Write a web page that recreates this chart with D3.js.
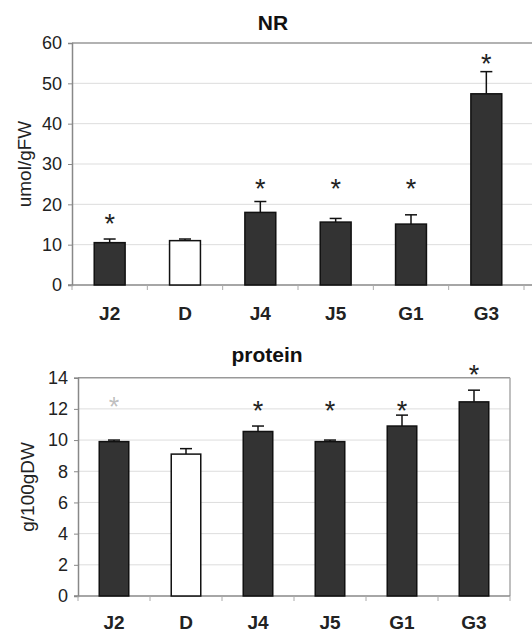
<!DOCTYPE html>
<html>
<head>
<meta charset="utf-8">
<script src="https://cdn.jsdelivr.net/npm/d3@7"></script>
<style>
  body { margin: 0; background: #fff; }
  svg { font-family: "Liberation Sans", Arial, sans-serif; }
</style>
</head>
<body>
<svg id="chart" width="532" height="633"></svg>
<script>
var categories = ['J2', 'D', 'J4', 'J5', 'G1', 'G3'];
var controlCat = 'D';

var nrValues = [10.5, 11.0, 18.0, 15.6, 15.1, 47.4];
var nrErrors = [0.9, 0.4, 2.7, 0.9, 2.3, 5.5];
var nrStars = [16.0, null, 24.8, 24.8, 24.8, 55.8];
var nrTicks = [0, 10, 20, 30, 40, 50, 60];

var proteinValues = [9.9, 9.1, 10.55, 9.9, 10.9, 12.45];
var proteinErrors = [0.1, 0.35, 0.35, 0.1, 0.7, 0.75];
var proteinStars = [12.4, null, 12.1, 12.1, 12.1, 14.4];
var proteinTicks = [0, 2, 4, 6, 8, 10, 12, 14];

var svg = d3.select('#chart');

function drawPanel(opt) {
    var g = svg.append('g');
    var gridEnd = opt.frameRight ? opt.right : 540;

    var x = d3.scaleBand()
        .domain(categories)
        .range([opt.left, opt.right])
        .paddingInner(0.59)
        .paddingOuter(0.295);

    var y = d3.scaleLinear()
        .domain([0, d3.max(opt.ticks)])
        .range([opt.bottom, opt.top]);

    // grid
    g.selectAll('.grid')
        .data(opt.ticks.filter(d => d > 0))
        .enter().append('line')
        .attr('x1', opt.left).attr('x2', gridEnd)
        .attr('y1', d => y(d)).attr('y2', d => y(d))
        .attr('stroke', d => d == d3.max(opt.ticks) ? '#999' : '#ddd')
        .attr('stroke-width', d => d == d3.max(opt.ticks) ? 1.5 : 1);

    if (opt.frameRight) {
        g.append('line')
            .attr('x1', opt.right).attr('x2', opt.right)
            .attr('y1', y(d3.max(opt.ticks))).attr('y2', opt.bottom)
            .attr('stroke', '#aaa').attr('stroke-width', 1.5);
    }

    // y axis
    var yAxis = d3.axisLeft(y).tickValues(opt.ticks).tickSize(4).tickPadding(6);
    var ya = g.append('g')
        .attr('transform', 'translate(' + opt.left + ',0)')
        .call(yAxis);
    ya.select('.domain').attr('stroke', '#888').attr('stroke-width', 1.5);
    ya.selectAll('.tick line').attr('stroke', '#888');
    ya.selectAll('.tick text')
        .attr('font-size', 18).attr('fill', '#222');

    // x axis line + boundary ticks
    g.append('line')
        .attr('x1', opt.left - 4).attr('x2', gridEnd)
        .attr('y1', opt.bottom).attr('y2', opt.bottom)
        .attr('stroke', '#888').attr('stroke-width', 1.5);

    var step = x.step();
    var bounds = d3.range(categories.length + 1).map(i => opt.left + i * step);
    g.selectAll('.xt')
        .data(bounds)
        .enter().append('line')
        .attr('x1', d => d).attr('x2', d => d)
        .attr('y1', opt.bottom).attr('y2', opt.bottom + 5)
        .attr('stroke', '#aaa');

    g.selectAll('.xl')
        .data(categories)
        .enter().append('text')
        .attr('x', d => x(d) + x.bandwidth() / 2)
        .attr('y', opt.labelY)
        .attr('text-anchor', 'middle')
        .attr('font-size', 19).attr('font-weight', 'bold')
        .attr('fill', '#222')
        .text(d => d);

    // bars
    g.selectAll('.bar')
        .data(opt.values)
        .enter().append('rect')
        .attr('x', (d, i) => x(categories[i]))
        .attr('y', d => y(d))
        .attr('width', x.bandwidth())
        .attr('height', d => opt.bottom - y(d))
        .attr('fill', (d, i) => categories[i] == controlCat ? '#fff' : '#333')
        .attr('stroke', '#111').attr('stroke-width', 1.5);

    // error bars
    opt.values.forEach(function (v, i) {
        var cx = x(categories[i]) + x.bandwidth() / 2;
        var top = y(v + opt.errors[i]);
        g.append('line')
            .attr('x1', cx).attr('x2', cx)
            .attr('y1', y(v)).attr('y2', top)
            .attr('stroke', '#111').attr('stroke-width', 1.5);
        g.append('line')
            .attr('x1', cx - 6).attr('x2', cx + 6)
            .attr('y1', top).attr('y2', top)
            .attr('stroke', '#111').attr('stroke-width', 1.5);
    });

    // significance stars
    opt.stars.forEach(function (s, i) {
        if (s == null) return;
        g.append('text')
            .attr('x', x(categories[i]) + x.bandwidth() / 2)
            .attr('y', y(s) + 13)
            .attr('text-anchor', 'middle')
            .attr('font-size', 27)
            .attr('fill', '#222')
            .attr('fill-opacity', opt.faintStar == i ? 0.3 : 1)
            .text('*');
    });

    // title
    g.append('text')
        .attr('x', opt.titleX).attr('y', opt.titleY)
        .attr('text-anchor', 'middle')
        .attr('font-size', 21).attr('font-weight', 'bold')
        .attr('fill', '#111')
        .text(opt.title);

    // y label
    g.append('text')
        .attr('transform', 'translate(' + opt.yLabelX + ',' + ((opt.top + opt.bottom) / 2) + ') rotate(-90)')
        .attr('text-anchor', 'middle')
        .attr('font-size', 19)
        .attr('fill', '#222')
        .text(opt.yLabel);
}

drawPanel({
    title: 'NR', titleX: 273, titleY: 30,
    yLabel: 'umol/gFW', yLabelX: 31,
    values: nrValues, errors: nrErrors, stars: nrStars, ticks: nrTicks,
    left: 72, right: 524, top: 43, bottom: 285, labelY: 320,
    frameRight: false
});

drawPanel({
    title: 'protein', titleX: 267, titleY: 362,
    yLabel: 'g/100gDW', yLabelX: 34,
    values: proteinValues, errors: proteinErrors, stars: proteinStars, ticks: proteinTicks,
    left: 78, right: 510, top: 377.7, bottom: 596, labelY: 629,
    frameRight: true, faintStar: 0
});
</script>
</body>
</html>
